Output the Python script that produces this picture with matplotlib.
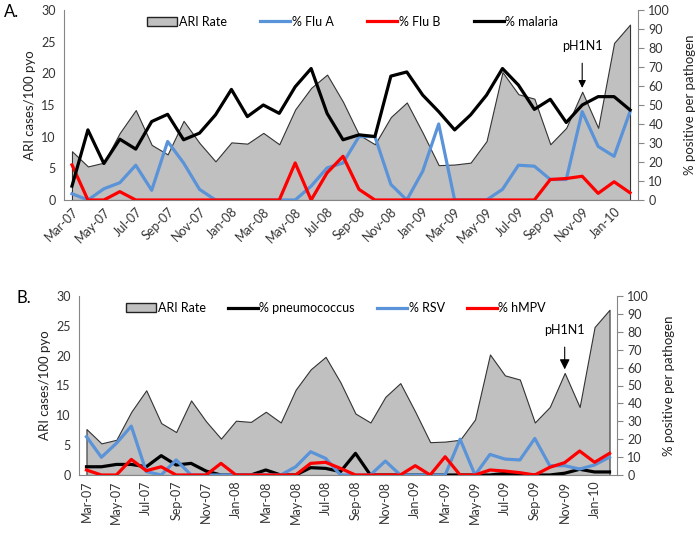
import matplotlib.pyplot as plt
from matplotlib.patches import Patch
from matplotlib.lines import Line2D
import numpy as np

plt.rcParams['font.family'] = ['Lato', 'DejaVu Sans']

# months Mar-07 .. Feb-10
months = ['Mar-07', 'Apr-07', 'May-07', 'Jun-07', 'Jul-07', 'Aug-07', 'Sep-07', 'Oct-07',
          'Nov-07', 'Dec-07', 'Jan-08', 'Feb-08', 'Mar-08', 'Apr-08', 'May-08', 'Jun-08',
          'Jul-08', 'Aug-08', 'Sep-08', 'Oct-08', 'Nov-08', 'Dec-08', 'Jan-09', 'Feb-09',
          'Mar-09', 'Apr-09', 'May-09', 'Jun-09', 'Jul-09', 'Aug-09', 'Sep-09', 'Oct-09',
          'Nov-09', 'Dec-09', 'Jan-10', 'Feb-10']

# ARI rate (cases / 100 pyo)
ari_rate = [7.7, 5.3, 5.9, 10.6, 14.2, 8.7, 7.2, 12.5, 9.0, 6.1, 9.1, 8.9,
            10.6, 8.8, 14.3, 17.7, 19.8, 15.5, 10.3, 8.8, 13.1, 15.4, 10.6, 5.5,
            5.6, 5.9, 9.3, 20.2, 16.7, 16.0, 8.8, 11.4, 17.1, 11.4, 24.8, 27.7]

# panel A (% positive)
flu_a = [3.3, 0, 5.9, 9.1, 18.3, 5.1, 30.8, 19.5, 5.6, 0, 0, 0,
         0, 0, 0, 7.3, 16.9, 19.5, 33.4, 33.4, 8.2, 0, 15.2, 40.0,
         0, 0, 0, 5.6, 18.3, 17.8, 10.8, 10.8, 46.5, 28.2, 23.0, 46.5]
flu_b = [18.5, 0, 0, 4.4, 0, 0, 0, 0, 0, 0, 0, 0,
         0, 0, 19.5, 0, 14.3, 23.0, 5.6, 0, 0, 0, 0, 0,
         0, 0, 0, 0, 0, 0, 10.8, 11.3, 12.5, 3.5, 9.6, 3.8]
malaria = [7.3, 36.9, 19.2, 32.0, 26.8, 41.3, 45.1, 31.7, 35.2, 44.8, 58.2, 43.9,
           50.0, 45.6, 59.6, 69.2, 45.6, 31.7, 34.3, 33.4, 65.2, 67.4, 55.2, 46.5,
           36.9, 44.8, 55.2, 69.2, 60.5, 47.7, 53.0, 40.8, 50.0, 54.4, 54.4, 47.4]

# panel B (% positive)
pneumo = [4.6, 4.6, 5.9, 5.9, 4.6, 10.8, 5.6, 6.5, 2.2, 0, 0, 0,
          2.8, 0, 0, 4.1, 3.7, 1.9, 12.1, 0, 0, 0, 0, 0,
          0, 0, 0, 0, 0.9, 0, 0, 0, 1.0, 3.2, 1.7, 1.7]
rsv = [21.4, 9.9, 17.7, 27.3, 1.9, 0, 8.4, 0, 0, 0, 0, 0,
       0, 0, 4.6, 13.0, 9.3, 0, 0, 0, 7.8, 0, 0, 0,
       0, 20.0, 0, 11.5, 8.9, 8.4, 20.4, 5.2, 5.2, 3.3, 5.6, 10.0]
hmpv = [2.8, 0, 0, 8.7, 2.4, 4.6, 0, 0, 0, 6.5, 0, 0,
        0, 0, 0, 6.5, 7.1, 3.7, 0, 0, 0, 0, 5.2, 0,
        10.2, 0, 0, 2.8, 2.2, 1.3, 0, 4.3, 6.9, 13.4, 7.1, 12.1]

x = np.arange(len(months))
grey_fill = '#c0c0c0'
blue = '#5a93d8'
red = '#ff0000'
axis_grey = '#868686'
fs = 9

fig = plt.figure(figsize=(6.97, 5.33), dpi=100)


def panel(rect, series, label_rot, letter, letter_pos, colspace, leg_x, head):
    ax = fig.add_axes(rect)
    ax.fill_between(x, 0, ari_rate, facecolor=grey_fill, edgecolor='#333333', linewidth=0.8)
    ax.set_xlim(-0.5, 35.5)
    ax.set_ylim(0, 30)
    ax.set_yticks(range(0, 31, 5))
    ax.tick_params(axis='y', length=0, labelsize=fs, colors='#333333', pad=6)
    ax.set_ylabel('ARI cases/100 pyo', fontsize=9.5, color='#222222')
    ax.set_xticks(x[::2])
    if label_rot == 45:
        ax.set_xticklabels(months[::2], rotation=45, ha='right', va='top',
                           rotation_mode='anchor', fontsize=fs, color='#333333')
    else:
        ax.set_xticklabels(months[::2], rotation=90, fontsize=fs, color='#333333')
    ax.tick_params(axis='x', length=0, pad=4)
    for s in ['top', 'right']:
        ax.spines[s].set_visible(False)
    ax.spines['left'].set_color(axis_grey)
    ax.spines['bottom'].set_color(axis_grey)

    ax2 = ax.twinx()
    ax2.set_ylim(0, 100)
    ax2.set_yticks(range(0, 101, 10))
    ax2.tick_params(axis='y', length=4, direction='out', color=axis_grey,
                    labelsize=fs, labelcolor='#333333')
    ax2.set_ylabel('% positive per pathogen', fontsize=9.5, color='#222222', labelpad=10)
    for s in ['top', 'left', 'bottom']:
        ax2.spines[s].set_visible(False)
    ax2.spines['right'].set_color(axis_grey)

    handles = [Patch(facecolor=grey_fill, edgecolor='#222222', label='ARI Rate')]
    for name, vals, col in series:
        ax2.plot(x, vals, color=col, linewidth=2.3)
        handles.append(Line2D([0], [0], color=col, linewidth=2.3, label=name))
    ax2.legend(handles=handles, loc='upper center', ncol=4, frameon=False,
               fontsize=fs, bbox_to_anchor=(leg_x, 1.03), handlelength=2.4,
               handletextpad=0.1, columnspacing=colspace)

    # pH1N1 marker at Nov-09
    ax2.annotate('pH1N1', xy=(32, 59), xytext=(32, 81), ha='center', va='center',
                 fontsize=fs, arrowprops=dict(arrowstyle='-|>', color='black', lw=0.8,
                                              mutation_scale=head, shrinkA=6, shrinkB=0))
    fig.text(letter_pos[0], letter_pos[1], letter, fontsize=12, ha='left', va='center')
    return ax, ax2


panel([64 / 697, 1 - 200 / 533, (638 - 64) / 697, 190 / 533],
      [('% Flu A', flu_a, blue), ('% Flu B', flu_b, red), ('% malaria', malaria, 'black')],
      45, 'A.', (4 / 697, 1 - 12 / 533), 2.7, 0.503, 11)
panel([79 / 697, 1 - 475 / 533, (617 - 79) / 697, 179 / 533],
      [('% pneumococcus', pneumo, 'black'), ('% RSV', rsv, blue), ('% hMPV', hmpv, red)],
      90, 'B.', (17 / 697, 1 - 298 / 533), 1.8, 0.478, 15)

fig.savefig('out.png', dpi=100)
